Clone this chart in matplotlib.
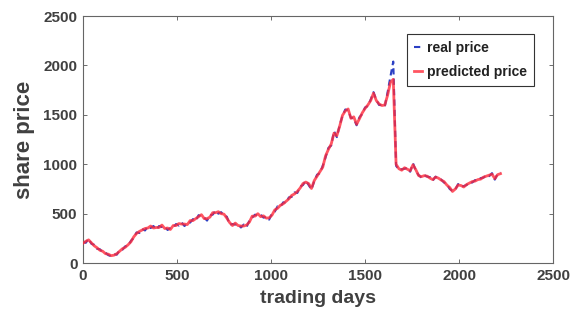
import matplotlib
matplotlib.use("Agg")
import matplotlib.pyplot as plt

# ── data (one sample every 15 trading days) ───────────────────────────────────
days = list(range(0, 2221, 15))

real_price = [
    215, 205, 245, 195, 185, 145, 140, 110, 105, 80,
    70, 90, 85, 130, 135, 170, 175, 225, 255, 310,
    305, 345, 330, 370, 355, 375, 340, 375, 365, 370,
    335, 355, 360, 395, 380, 410, 375, 405, 410, 445,
    430, 485, 470, 460, 430, 485, 490, 530, 500, 515,
    480, 470, 390, 395, 390, 395, 360, 390, 365, 430,
    460, 490, 480, 490, 460, 470, 440, 500, 520, 575,
    570, 615, 610, 665, 670, 715, 710, 775, 790, 835,
    790, 745, 830, 895, 910, 985, 1070, 1165, 1190, 1335,
    1275, 1395, 1490, 1555, 1545, 1470, 1465, 1395, 1475, 1510,
    1575, 1590, 1655, 1730, 1650, 1600, 1600, 1585, 1730, 1890,
    2040, 985, 945, 950, 955, 965, 925, 1010, 935, 890,
    865, 890, 875, 870, 835, 875, 855, 845, 815, 800,
    750, 730, 745, 800, 775, 780, 790, 820, 815, 840,
    835, 860, 865, 890, 880, 910, 845, 905, 915]

predicted_price = [
    200, 220, 235, 205, 175, 155, 130, 120, 95, 90,
    75, 80, 95, 120, 145, 160, 185, 215, 265, 300,
    320, 335, 350, 355, 375, 355, 360, 360, 385, 350,
    355, 340, 380, 380, 400, 395, 395, 390, 430, 430,
    450, 470, 490, 450, 450, 465, 510, 510, 520, 500,
    495, 455, 410, 380, 405, 380, 375, 375, 385, 415,
    475, 475, 500, 470, 478, 455, 458, 485, 538, 555,
    585, 600, 625, 650, 685, 700, 725, 760, 805, 820,
    805, 755, 835, 880, 925, 970, 1085, 1150, 1205, 1315,
    1290, 1385, 1495, 1540, 1560, 1465, 1480, 1405, 1460, 1520,
    1565, 1600, 1645, 1720, 1645, 1610, 1595, 1600, 1700, 1830,
    1860, 1000, 955, 940, 965, 950, 935, 995, 945, 885,
    875, 885, 880, 860, 845, 870, 860, 840, 825, 790,
    765, 725, 750, 790, 785, 770, 795, 810, 825, 830,
    845, 850, 870, 880, 890, 900, 855, 895, 905]

x_ticks = [0, 500, 1000, 1500, 2000, 2500]
y_ticks = [0, 500, 1000, 1500, 2000, 2500]

# ── figure ────────────────────────────────────────────────────────────────────
plt.rcParams['font.family'] = ['Liberation Sans', 'DejaVu Sans']

fig = plt.figure(figsize=(5.72, 3.22), dpi=100)
ax = fig.add_axes([0.145, 0.183, 0.822, 0.767])

ax.plot(days, real_price, color='#2b3fc4', lw=1.5, ls=(0, (3, 2)),
        label='real price', zorder=2)
ax.plot(days, predicted_price, color='#ff2a3a', lw=2.0, alpha=0.8,
        label='predicted price', zorder=3)

ax.set_xlim(0, 2500)
ax.set_ylim(0, 2500)
ax.set_xticks(x_ticks)
ax.set_yticks(y_ticks)
ax.tick_params(direction='in', top=True, right=True, length=3, width=0.6,
               colors='#555555', labelsize=11, pad=4)
for lab in ax.get_xticklabels() + ax.get_yticklabels():
    lab.set_fontweight('bold')
    lab.set_color('#404040')
for sp in ax.spines.values():
    sp.set_color('#666666')
    sp.set_linewidth(0.8)

ax.set_xlabel('trading days', fontsize=14, fontweight='bold', color='#404040',
              labelpad=5)
ax.set_ylabel('share price', fontsize=16, fontweight='bold', color='#404040',
              labelpad=6)

leg = ax.legend(loc='upper right', bbox_to_anchor=(0.975, 0.955),
                fontsize=10, handlelength=0.6, handletextpad=0.4,
                borderpad=0.5, labelspacing=0.7, fancybox=False,
                framealpha=1)
leg.get_frame().set_edgecolor('#333333')
leg.get_frame().set_linewidth(0.8)
for t in leg.get_texts():
    t.set_fontweight('bold')
    t.set_color('#222222')

plt.savefig('out.png', dpi=100)
